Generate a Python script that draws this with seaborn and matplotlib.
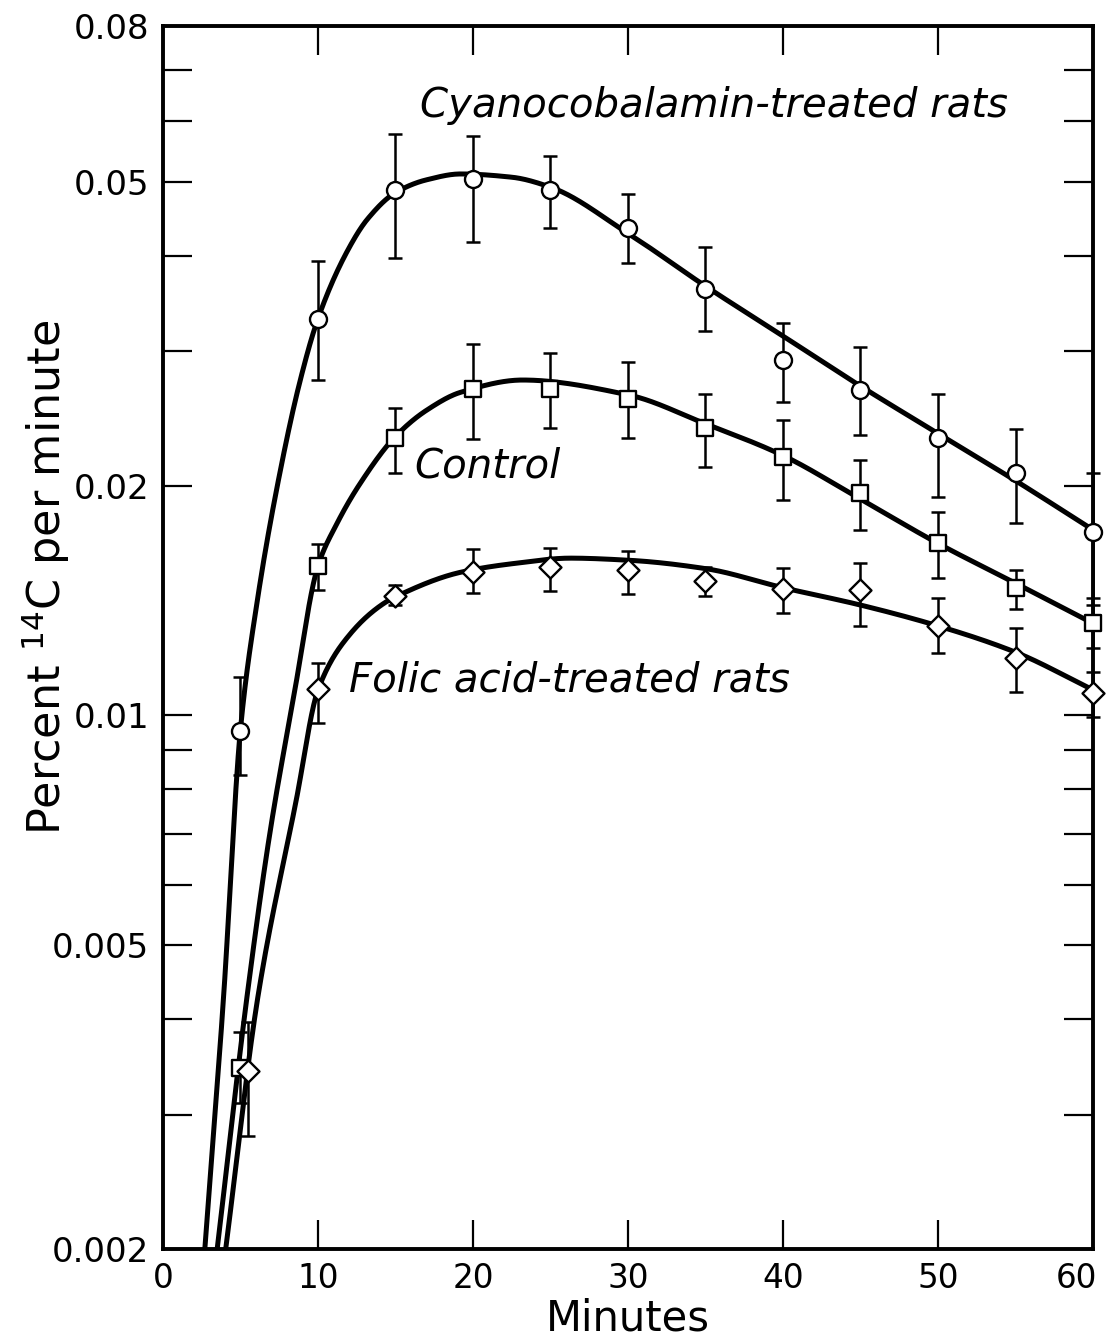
import numpy as np
import pandas as pd
import matplotlib
matplotlib.use("Agg")
import matplotlib.pyplot as plt
import matplotlib.transforms as mtransforms
import seaborn as sns
from matplotlib.ticker import FixedLocator, FixedFormatter, NullFormatter

# ---------------- data ----------------
minutes = [5, 10, 15, 20, 25, 30, 35, 40, 45, 50, 55, 60]
folic_minutes = [5.5, 10, 15, 20, 25, 30, 35, 40, 45, 50, 55, 60]

cyano_vals = [0.00955, 0.0331, 0.0488, 0.0505, 0.0488, 0.0435, 0.0362, 0.0292, 0.0267, 0.0231, 0.0208, 0.0174]
cyano_hi = [0.01123, 0.0394, 0.0578, 0.0574, 0.0541, 0.0482, 0.0411, 0.0327, 0.0304, 0.0264, 0.0237, 0.0208]
cyano_lo = [0.00836, 0.0275, 0.0397, 0.0417, 0.0435, 0.0391, 0.0319, 0.0257, 0.0233, 0.0193, 0.01786, 0.01425]

control_vals = [0.00345, 0.0157, 0.0231, 0.0268, 0.0268, 0.0260, 0.0238, 0.0218, 0.01954, 0.0168, 0.01468, 0.0132]
control_hi = [0.00385, 0.01676, 0.02525, 0.0307, 0.0298, 0.0290, 0.0264, 0.02434, 0.02158, 0.01845, 0.0155, 0.01395]
control_lo = [0.00311, 0.0146, 0.02076, 0.0230, 0.02377, 0.02307, 0.02113, 0.01913, 0.01748, 0.01513, 0.01378, 0.01226]

folic_vals = [0.00342, 0.01083, 0.01433, 0.0154, 0.01563, 0.0155, 0.0150, 0.01464, 0.0146, 0.0131, 0.0119, 0.0107]
folic_hi = [0.00397, 0.01171, 0.01482, 0.0165, 0.01656, 0.01641, 0.01564, 0.0156, 0.01583, 0.01425, 0.01302, 0.0114]
folic_lo = [0.00281, 0.00978, 0.01395, 0.01446, 0.01455, 0.01442, 0.01433, 0.01362, 0.0131, 0.01207, 0.01074, 0.00995]

# fitted curves
cyano_curve_x = [2.4, 2.7, 3.9, 5.0, 6.1, 7.4, 8.8, 10.0, 11.9, 13.2, 15.0, 17.0, 19.2, 22.5, 25, 30, 35, 40, 45, 50, 55, 60]
cyano_curve_y = [0.00166, 0.0020, 0.00425, 0.0096, 0.0142, 0.0201, 0.0272, 0.0331, 0.0406, 0.0447, 0.0484, 0.0503, 0.0512, 0.0507, 0.0492, 0.0428, 0.0365, 0.0314, 0.0270, 0.0234, 0.0203, 0.0175]

control_curve_x = [3.0, 3.5, 5.4, 6.9, 8.4, 10.0, 11.2, 12.7, 15.0, 17.0, 19.2, 23.2, 30, 35, 40, 45, 50, 55, 60]
control_curve_y = [0.00164, 0.0020, 0.00425, 0.00702, 0.01048, 0.0157, 0.0178, 0.0201, 0.0232, 0.0251, 0.0265, 0.0275, 0.0263, 0.0241, 0.0219, 0.0192, 0.0168, 0.0149, 0.0132]

folic_curve_x = [3.5, 4.05, 6.1, 8.6, 10.0, 12.1, 14.2, 15.0, 19.2, 22.5, 26.3, 30, 35, 40, 45, 50, 55, 60]
folic_curve_y = [0.00163, 0.0020, 0.00425, 0.00775, 0.0108, 0.0128, 0.0140, 0.0143, 0.0154, 0.0158, 0.01607, 0.01597, 0.01557, 0.0147, 0.01395, 0.0131, 0.0121, 0.0108]

y_major = [0.002, 0.005, 0.01, 0.02, 0.05, 0.08]
y_major_labels = ["0.002", "0.005", "0.01", "0.02", "0.05", "0.08"]
y_minor = [0.003, 0.004, 0.006, 0.007, 0.008, 0.009, 0.03, 0.04, 0.06, 0.07]
x_major = [0, 10, 20, 30, 40, 50, 60]


def pchip(x, y, xn):
    """Shape-preserving cubic Hermite smoothing of the read curve points."""
    x = np.asarray(x, float)
    y = np.asarray(y, float)
    h = np.diff(x)
    d = np.diff(y) / h
    m = np.zeros_like(y)
    for k in range(1, len(x) - 1):
        if d[k - 1] * d[k] <= 0:
            m[k] = 0.0
        else:
            w1 = 2 * h[k] + h[k - 1]
            w2 = h[k] + 2 * h[k - 1]
            m[k] = (w1 + w2) / (w1 / d[k - 1] + w2 / d[k])
    m[0] = d[0]
    m[-1] = d[-1]
    idx = np.clip(np.searchsorted(x, xn) - 1, 0, len(x) - 2)
    t = (xn - x[idx]) / h[idx]
    h00 = 2 * t**3 - 3 * t**2 + 1
    h10 = t**3 - 2 * t**2 + t
    h01 = -2 * t**3 + 3 * t**2
    h11 = t**3 - t**2
    return h00 * y[idx] + h10 * h[idx] * m[idx] + h01 * y[idx + 1] + h11 * h[idx] * m[idx + 1]


def smooth_curve(cx, cy):
    xn = np.linspace(cx[0], cx[-1], 800)
    yn = 10 ** pchip(cx, np.log10(cy), xn)
    return pd.DataFrame({"x": xn, "y": yn})


sns.set_theme(style="ticks")
plt.rcParams["font.family"] = ["DejaVu Sans"]
plt.rcParams["mathtext.fontset"] = "dejavusans"
plt.rcParams["text.color"] = "black"
plt.rcParams["axes.labelcolor"] = "black"
plt.rcParams["xtick.color"] = "black"
plt.rcParams["ytick.color"] = "black"

fig, ax = plt.subplots(figsize=(11.11, 13.40), dpi=100)
fig.subplots_adjust(left=0.1467, right=0.9838, top=0.9806, bottom=0.0679)
ax.set_yscale("log")

for cx, cy in [(cyano_curve_x, cyano_curve_y), (control_curve_x, control_curve_y), (folic_curve_x, folic_curve_y)]:
    df = smooth_curve(cx, cy)
    sns.lineplot(data=df, x="x", y="y", color="black", linewidth=3.6, ax=ax, zorder=2, estimator=None)

series = [
    (minutes, cyano_vals, cyano_lo, cyano_hi, "o", 150),
    (minutes, control_vals, control_lo, control_hi, "s", 140),
    (folic_minutes, folic_vals, folic_lo, folic_hi, "D", 125),
]
for xs, ys, lo, hi, mk, s in series:
    ys_a = np.array(ys)
    yerr = np.vstack([ys_a - np.array(lo), np.array(hi) - ys_a])
    eb = ax.errorbar(xs, ys, yerr=yerr, fmt="none", ecolor="black", elinewidth=1.8,
                     capsize=5, capthick=1.8, zorder=3)
    for art in eb.lines[1] + eb.lines[2]:
        art.set_clip_on(False)
    sns.scatterplot(x=xs, y=ys, marker=mk, s=s, facecolor="white", edgecolor="black",
                    linewidth=1.7, ax=ax, zorder=4, clip_on=False)

ax.set_xlim(0, 60)
ax.set_ylim(0.002, 0.08)

ax.xaxis.set_major_locator(FixedLocator(x_major))
ax.yaxis.set_major_locator(FixedLocator(y_major))
ax.yaxis.set_major_formatter(FixedFormatter(y_major_labels))
ax.yaxis.set_minor_locator(FixedLocator(y_minor))
ax.yaxis.set_minor_formatter(NullFormatter())
ax.xaxis.set_minor_locator(FixedLocator([]))

ax.tick_params(axis="both", which="both", direction="in", length=21, width=1.6,
               top=True, right=True, colors="black")
ax.tick_params(axis="y", which="major", labelsize=24.5, pad=10)
ax.tick_params(axis="x", which="major", labelsize=23.5, pad=9)

for sp in ax.spines.values():
    sp.set_linewidth(2.8)
    sp.set_color("black")
    sp.set_visible(True)

ax.set_xlabel("Minutes", fontsize=30, labelpad=2)
ax.set_ylabel(r"Percent $^{14}$C per minute", fontsize=32)
ax.yaxis.set_label_coords(-0.098, 0.549)

ax.text(16.6, 0.0629, "Cyanocobalamin-treated rats", fontsize=29, style="italic", va="center", ha="left")
ax.text(16.2, 0.0212, "Control", fontsize=29, style="italic", va="center", ha="left")
ax.text(12.0, 0.01113, "Folic acid-treated rats", fontsize=29, style="italic", va="center", ha="left")

# the last x tick label sits slightly left of its tick, as in the reference
fig.canvas.draw()
last = ax.get_xticklabels()[-1]
last.set_transform(last.get_transform() + mtransforms.ScaledTranslation(-12 / 72, 0, fig.dpi_scale_trans))

fig.savefig("out.png", dpi=100, facecolor="white")
